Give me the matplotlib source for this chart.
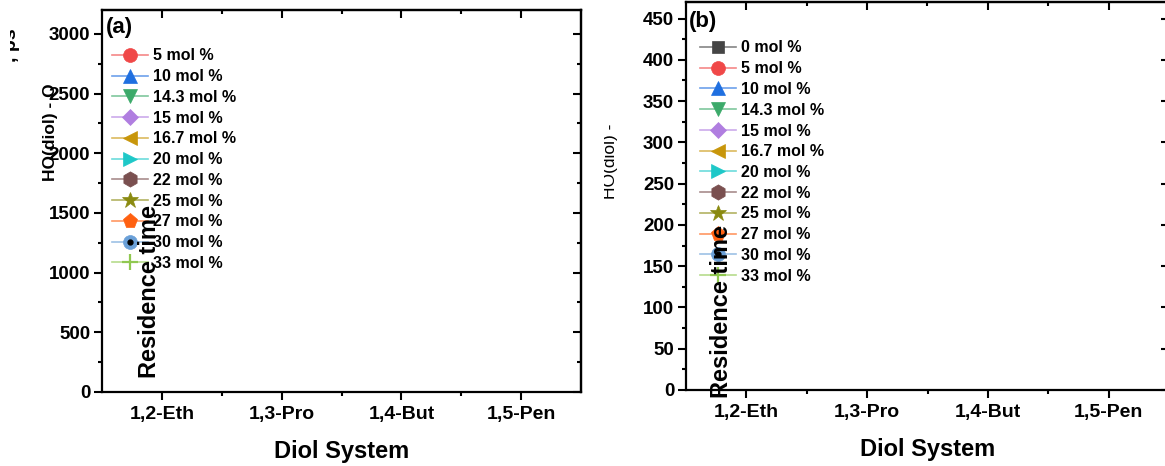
import matplotlib
matplotlib.use("Agg")
import matplotlib.pyplot as plt
from matplotlib.lines import Line2D
from matplotlib.legend_handler import HandlerTuple
from matplotlib.ticker import MultipleLocator, FixedLocator
from matplotlib.transforms import Bbox

plt.rcParams['font.family'] = ['Liberation Sans', 'DejaVu Sans']
plt.rcParams['font.weight'] = 'bold'

# data
diol_systems = ['1,2-Eth', '1,3-Pro', '1,4-But', '1,5-Pen']
conc_a = ['5', '10', '14.3', '15', '16.7', '20', '22', '25', '27', '30', '33']
conc_b = ['0'] + conc_a
# no data points are visible in either panel, only the legend entries
residence_a = {c: [] for c in conc_a}
residence_b = {c: [] for c in conc_b}

styles = {
    '0': ('#454545', 's'),
    '5': ('#f04848', 'o'),
    '10': ('#1f6fe0', '^'),
    '14.3': ('#3caa6a', 'v'),
    '15': ('#b07ee0', 'D'),
    '16.7': ('#c8960a', '<'),
    '20': ('#1ec8c8', '>'),
    '22': ('#7a5050', 'h'),
    '25': ('#8a8a10', '*'),
    '27': ('#ff6010', 'p'),
    '30': ('#6aa0d8', 'o'),
    '33': ('#90c850', '+'),
}
marker_sizes = {'D': 8.5, '*': 12, '+': 12, 's': 8.5, 'h': 11, 'p': 11}

W, H = 1165, 466
fig = plt.figure(figsize=(W / 100, H / 100), dpi=100)


def px_axes(left, right, top, bottom):
    return fig.add_axes([left / W, 1 - bottom / H, (right - left) / W, (bottom - top) / H])


def style_axes(ax, ylim, ymajor, yminor):
    ax.set_xlim(0.5, 4.5)
    ax.set_ylim(*ylim)
    ax.xaxis.set_major_locator(FixedLocator([1, 2, 3, 4]))
    ax.xaxis.set_minor_locator(FixedLocator([1.5, 2.5, 3.5]))
    ax.set_xticklabels(diol_systems, fontsize=14, fontweight='bold')
    ax.yaxis.set_major_locator(MultipleLocator(ymajor))
    ax.yaxis.set_minor_locator(MultipleLocator(yminor))
    for lab in ax.get_yticklabels():
        lab.set_fontsize(13.5)
        lab.set_fontweight('bold')
    for sp in ax.spines.values():
        sp.set_linewidth(1.6)
    ax.tick_params(which='major', direction='out', length=5.5, width=1.5, pad=3)
    ax.tick_params(axis='x', which='major', pad=4.5)
    ax.tick_params(which='minor', direction='out', length=3, width=1.5)
    # inward ticks on top and right
    top = ax.secondary_xaxis('top')
    top.xaxis.set_major_locator(FixedLocator([1, 2, 3, 4]))
    top.xaxis.set_minor_locator(FixedLocator([1.5, 2.5, 3.5]))
    top.tick_params(which='major', direction='in', length=5.5, width=1.5, labeltop=False)
    top.tick_params(which='minor', direction='in', length=3, width=1.5)
    top.spines['top'].set_linewidth(1.6)
    right = ax.secondary_yaxis('right')
    right.yaxis.set_major_locator(MultipleLocator(ymajor))
    right.yaxis.set_minor_locator(MultipleLocator(yminor))
    right.tick_params(which='major', direction='in', length=5.5, width=1.5, labelright=False)
    right.tick_params(which='minor', direction='in', length=3, width=1.5)
    right.spines['right'].set_linewidth(1.6)


def draw_series(ax, data):
    handles, labels = [], []
    for c, vals in data.items():
        color, mk = styles[c]
        ms = marker_sizes.get(mk, 10)
        mew = 1.6 if mk == '+' else 0.5
        ax.plot(range(1, len(vals) + 1), vals, color=color, marker=mk,
                markersize=ms, markeredgewidth=mew, markeredgecolor=color, lw=1.2)
        line = Line2D([], [], color=color, lw=1.2, alpha=0.65)
        mark = Line2D([], [], color=color, marker=mk, markersize=ms, lw=0,
                      markeredgewidth=mew, markeredgecolor=color)
        if c == '30':
            dot = Line2D([], [], color='black', marker='o', markersize=3.5, lw=0)
            handles.append((line, mark, dot))
        else:
            handles.append((line, mark))
        labels.append(f'{c} mol %')
    return handles, labels


def add_legend(ax, handles, labels, left, top):
    ax.legend(handles, labels, handler_map={tuple: HandlerTuple(ndivide=1)},
              loc='upper left', bbox_to_anchor=(left / W, 1 - top / H),
              bbox_transform=fig.transFigure, frameon=False, borderpad=0,
              borderaxespad=0, handlelength=2.25, handletextpad=0.3,
              labelspacing=0.36, prop={'size': 11.5, 'weight': 'bold'})


# panel (a)
ax_a = px_axes(102, 581, 10, 392)
style_axes(ax_a, (0, 3200), 500, 250)
h, l = draw_series(ax_a, residence_a)
add_legend(ax_a, h, l, 112, 48.5)
ax_a.set_xlabel('Diol System', fontsize=17, fontweight='bold', labelpad=12)

# panel (b)
ax_b = px_axes(686, 1169, 2, 390)
style_axes(ax_b, (0, 470), 50, 25)
h, l = draw_series(ax_b, residence_b)
add_legend(ax_b, h, l, 700, 40.5)
ax_b.set_xlabel('Diol System', fontsize=17, fontweight='bold', labelpad=12)

# panel tags
fig.text(106 / W, 1 - 27 / H, '(a)', fontsize=16, fontweight='bold', va='center')
fig.text(689 / W, 1 - 21 / H, '(b)', fontsize=16, fontweight='bold', va='center')

# broken y-axis titles (as in the original export)
fig.text(150 / W, 1 - 291 / H, 'Residence time', rotation=90, fontsize=17,
         fontweight='bold', ha='center', va='center')
fig.text(722 / W, 1 - 311 / H, 'Residence time', rotation=90, fontsize=17,
         fontweight='bold', ha='center', va='center')
fig.text(51 / W, 1 - 132 / H, 'HO(diol) - O', rotation=90, fontsize=12.5,
         fontweight='bold', ha='center', va='center')
t1 = fig.text(11 / W, 1 - 45 / H, ', ps', rotation=90, fontsize=14,
              fontweight='bold', ha='center', va='center')
t1.set_clip_box(Bbox.from_extents(10, 0, W, H))
t1.set_clip_on(True)
t2 = fig.text(610 / W, 1 - 161 / H, 'HO(diol) -', rotation=90, fontsize=12.5,
              fontweight='normal', ha='center', va='center')
t2.set_clip_box(Bbox.from_extents(604, 0, W, H))
t2.set_clip_on(True)

fig.savefig('out.png', dpi=100)
